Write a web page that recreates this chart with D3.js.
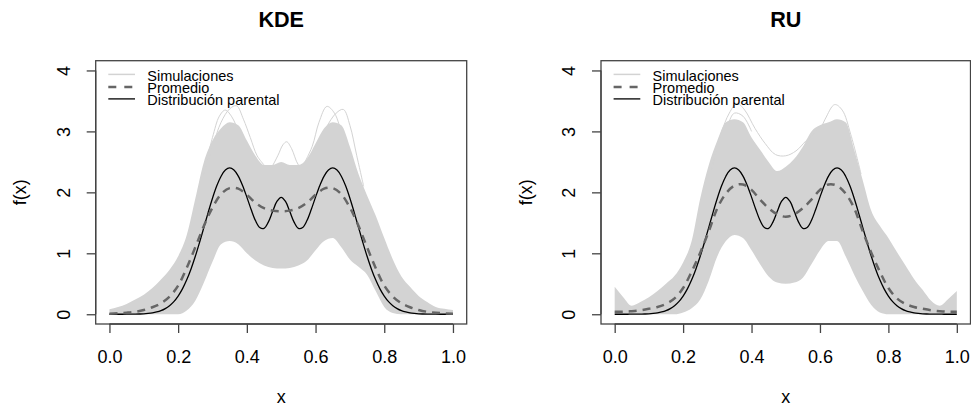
<!DOCTYPE html>
<html><head><meta charset="utf-8">
<script src="https://cdn.jsdelivr.net/npm/d3@7/dist/d3.min.js"></script>
<style>
body{margin:0;background:#fff}
svg{display:block}
text{font-family:"Liberation Sans",Arial,Helvetica,sans-serif;fill:#000}
</style>
</head><body>
<svg id="chart" width="971" height="409"></svg>
<script>
// ---------- data ----------
const titles = ["KDE", "RU"];
const xTicks = [0, 0.2, 0.4, 0.6, 0.8, 1.0];
const yTicks = [0, 1, 2, 3, 4];
const legendLabels = ["Simulaciones", "Promedio", "Distribución parental"];

// evaluation grid for averages / simulation envelopes
const gridX = [0,0.025,0.05,0.075,0.1,0.125,0.15,0.175,0.2,0.225,0.25,0.275,0.3,0.325,0.35,0.375,0.4,0.425,0.45,0.475,0.5,
  0.525,0.55,0.575,0.6,0.625,0.65,0.675,0.7,0.725,0.75,0.775,0.8,0.825,0.85,0.875,0.9,0.925,0.95,0.975,1];

// parent (true) density, finer grid
const parentX = [0,0.0125,0.025,0.0375,0.05,0.0625,0.075,0.0875,0.1,0.1125,0.125,0.1375,0.15,0.1625,0.175,0.1875,0.2,0.2125,0.225,0.2375,
  0.25,0.2625,0.275,0.2875,0.3,0.3125,0.325,0.3375,0.35,0.3625,0.375,0.3875,0.4,0.4125,0.425,0.4375,0.45,0.4625,0.475,0.4875,
  0.5,0.5125,0.525,0.5375,0.55,0.5625,0.575,0.5875,0.6,0.6125,0.625,0.6375,0.65,0.6625,0.675,0.6875,0.7,0.7125,0.725,0.7375,
  0.75,0.7625,0.775,0.7875,0.8,0.8125,0.825,0.8375,0.85,0.8625,0.875,0.8875,0.9,0.9125,0.925,0.9375,0.95,0.9625,0.975,0.9875,1];
const parentY = [0.000,0.000,0.000,0.000,0.001,0.001,0.002,0.004,0.007,0.013,0.022,0.037,0.059,0.093,0.141,0.208,0.299,0.417,0.565,0.744,
  0.951,1.182,1.426,1.672,1.904,2.107,2.265,2.366,2.400,2.367,2.267,2.114,1.922,1.719,1.538,1.424,1.410,1.512,1.685,1.850,
  1.918,1.850,1.685,1.512,1.410,1.424,1.538,1.719,1.922,2.114,2.267,2.367,2.400,2.366,2.265,2.107,1.904,1.672,1.426,1.182,
  0.951,0.744,0.565,0.417,0.299,0.208,0.141,0.093,0.059,0.037,0.022,0.013,0.007,0.004,0.002,0.001,0.001,0.000,0.000,0.000,0.000];

// KDE panel
const kdeMean  = [0.01,0.015,0.025,0.04,0.07,0.115,0.18,0.29,0.47,0.76,1.1,1.45,1.75,1.97,2.07,2.06,1.96,1.83,1.74,1.70,1.69,
  1.70,1.74,1.83,1.96,2.06,2.07,1.97,1.75,1.45,1.1,0.76,0.47,0.29,0.18,0.115,0.07,0.04,0.025,0.015,0.01];
const kdeUpper = [0.08,0.12,0.17,0.24,0.32,0.43,0.57,0.73,0.95,1.3,1.9,2.5,2.85,3.05,3.15,3.1,2.85,2.6,2.45,2.45,2.5,
  2.45,2.45,2.55,2.8,3.05,3.15,3.1,2.75,2.3,1.95,1.62,1.25,0.9,0.62,0.45,0.3,0.2,0.12,0.09,0.07];
const kdeLower = [0,0,0,0,0,0,0,0,0,0.06,0.22,0.52,0.86,1.15,1.2,1.15,1.0,0.88,0.8,0.76,0.75,
  0.76,0.8,0.88,1.05,1.2,1.25,1.1,0.9,0.78,0.65,0.38,0.12,0.02,0,0,0,0,0,0,0];
const kdeSimA = [[0.275,2.3],[0.3,2.75],[0.325,3.15],[0.35,3.37],[0.37,3.42],[0.39,3.2],[0.41,2.9],[0.43,2.6],[0.45,2.45]];
const kdeSimB = [[0.28,2.45],[0.3,2.9],[0.32,3.25],[0.337,3.35],[0.355,3.25],[0.38,2.95],[0.4,2.7]];
const kdeSimC = [[0.45,2.3],[0.47,2.4],[0.49,2.6],[0.505,2.78],[0.516,2.83],[0.53,2.72],[0.55,2.45],[0.57,2.35]];
const kdeSimD = [[0.56,2.4],[0.59,2.75],[0.61,3.15],[0.633,3.41],[0.655,3.3],[0.68,2.9],[0.7,2.6]];
const kdeSimE = [[0.6,2.65],[0.63,3.05],[0.66,3.3],[0.681,3.36],[0.7,3.1],[0.72,2.6],[0.74,2.1]];

// RU panel
const ruMean  = [0.04,0.04,0.05,0.065,0.09,0.12,0.17,0.26,0.43,0.7,1.01,1.36,1.74,1.98,2.11,2.13,2.04,1.88,1.74,1.64,1.60,
  1.64,1.74,1.88,2.04,2.13,2.11,1.98,1.74,1.36,1.01,0.7,0.43,0.26,0.17,0.12,0.09,0.065,0.05,0.04,0.04];
const ruUpper = [0.45,0.28,0.14,0.2,0.28,0.38,0.5,0.63,0.85,1.2,1.9,2.45,2.85,3.15,3.2,3.15,2.9,2.7,2.5,2.35,2.42,
  2.55,2.75,3.0,3.1,3.15,3.2,3.15,2.7,2.2,1.7,1.45,1.25,1.02,0.8,0.58,0.4,0.22,0.14,0.25,0.38];
const ruLower = [0,0,0,0,0,0,0,0,0.03,0.1,0.24,0.55,0.95,1.2,1.3,1.25,1.05,0.82,0.62,0.52,0.5,
  0.52,0.6,0.82,1.05,1.2,1.2,0.95,0.65,0.38,0.15,0.03,0,0,0,0,0,0,0,0,0];
const ruSimA = [[0.28,2.3],[0.31,2.95],[0.335,3.3],[0.357,3.46],[0.38,3.35],[0.41,3.05],[0.44,2.8],[0.47,2.62],[0.5,2.6],[0.53,2.68],[0.56,2.85],[0.59,3.0]];
const ruSimB = [[0.56,2.6],[0.59,2.9],[0.615,3.2],[0.643,3.44],[0.665,3.35],[0.69,2.95],[0.72,2.3]];
const ruSimC = [[0.3,2.6],[0.33,3.1],[0.35,3.3],[0.375,3.25],[0.4,3.0]];

// ---------- drawing ----------
const svg = d3.select("#chart");
const plotTop = 60.7, plotBottom = 324;
const GRAY = "#d3d3d3", MEAN = "#666666";

const panels = [
  {title: titles[0], x0: 95.7, x1: 466.7, mean: kdeMean, upper: kdeUpper, lower: kdeLower, sims: [kdeSimA, kdeSimB, kdeSimC, kdeSimD, kdeSimE]},
  {title: titles[1], x0: 601,  x1: 970.5, mean: ruMean,  upper: ruUpper,  lower: ruLower,  sims: [ruSimA, ruSimB, ruSimC]}
];

panels.forEach((p, i) => {
  const x = d3.scaleLinear().domain([-0.04, 1.04]).range([p.x0, p.x1]);
  const y = d3.scaleLinear().domain([-0.16, 4.16]).range([plotBottom, plotTop]);
  const g = svg.append("g");
  const cx = (p.x0 + p.x1) / 2;

  const clipId = "clip" + i;
  svg.append("clipPath").attr("id", clipId).append("rect")
    .attr("x", p.x0).attr("y", plotTop).attr("width", p.x1 - p.x0).attr("height", plotBottom - plotTop);
  const plot = g.append("g").attr("clip-path", `url(#${clipId})`);

  // simulation band
  const band = d3.area()
    .x((d, j) => x(gridX[j]))
    .y0((d, j) => y(p.lower[j]))
    .y1((d, j) => y(p.upper[j]))
    .curve(d3.curveMonotoneX);
  plot.append("path").datum(p.upper).attr("d", band).attr("fill", GRAY);

  // individual outlying simulations
  const simLine = d3.line().x(d => x(d[0])).y(d => y(d[1])).curve(d3.curveCatmullRom.alpha(0.5));
  p.sims.forEach(s => {
    plot.append("path").datum(s).attr("d", simLine)
      .attr("fill", "none").attr("stroke", GRAY).attr("stroke-width", 1);
  });

  // parent distribution
  const pLine = d3.line().x((d, j) => x(parentX[j])).y(d => y(d)).curve(d3.curveCatmullRom.alpha(0.5));
  plot.append("path").datum(parentY).attr("d", pLine)
    .attr("fill", "none").attr("stroke", "#000").attr("stroke-width", 1.3);

  // mean
  const mLine = d3.line().x((d, j) => x(gridX[j])).y(d => y(d)).curve(d3.curveCatmullRom.alpha(0.5));
  plot.append("path").datum(p.mean).attr("d", mLine)
    .attr("fill", "none").attr("stroke", MEAN).attr("stroke-width", 2.5)
    .attr("stroke-dasharray", "8,6");

  // box
  g.append("rect").attr("x", p.x0).attr("y", plotTop)
    .attr("width", p.x1 - p.x0).attr("height", plotBottom - plotTop)
    .attr("fill", "none").attr("stroke", "#444").attr("stroke-width", 1.3);

  // x axis
  const xa = g.append("g").attr("transform", `translate(0,${plotBottom})`)
    .call(d3.axisBottom(x).tickValues(xTicks).tickFormat(d3.format(".1f")).tickSize(9).tickSizeOuter(0).tickPadding(17));
  xa.select(".domain").remove();
  xa.append("line").attr("x1", x(0)).attr("x2", x(1)).attr("y1", 0).attr("y2", 0).attr("stroke", "#444").attr("stroke-width", 1.3);
  xa.selectAll(".tick line").attr("stroke", "#444").attr("stroke-width", 1.3);
  xa.selectAll(".tick text").attr("font-size", 18).attr("fill", "#000");

  // y axis
  const ya = g.append("g").attr("transform", `translate(${p.x0},0)`)
    .call(d3.axisLeft(y).tickValues(yTicks).tickFormat(d3.format("d")).tickSize(9).tickSizeOuter(0));
  ya.select(".domain").remove();
  ya.append("line").attr("x1", 0).attr("x2", 0).attr("y1", y(0)).attr("y2", y(4)).attr("stroke", "#444").attr("stroke-width", 1.3);
  ya.selectAll(".tick line").attr("stroke", "#444").attr("stroke-width", 1.3);
  ya.selectAll(".tick text")
    .attr("x", null).attr("dy", "0.35em").attr("text-anchor", "middle")
    .attr("transform", "translate(-32,0) rotate(-90)")
    .attr("font-size", 18).attr("fill", "#000");

  // titles and labels
  g.append("text").attr("x", cx).attr("y", 27).attr("text-anchor", "middle")
    .attr("font-size", 21.6).attr("font-weight", "bold").text(p.title);
  g.append("text").attr("x", x(0.5)).attr("y", 403).attr("text-anchor", "middle")
    .attr("font-size", 18).text("x");
  g.append("text").attr("transform", `translate(${p.x0 - 74},${(plotTop + plotBottom) / 2}) rotate(-90)`)
    .attr("dy", "0.26em").attr("text-anchor", "middle").attr("font-size", 18).text("f(x)");

  // legend
  const styles = [
    {stroke: GRAY, w: 1.5, dash: null},
    {stroke: MEAN, w: 2.5, dash: "8,8"},
    {stroke: "#000", w: 1.3, dash: null}
  ];
  const baselines = [80.7, 93.2, 105.2];
  legendLabels.forEach((lab, k) => {
    const ly = baselines[k] - 6.3;
    g.append("line").attr("x1", p.x0 + 12.6).attr("x2", p.x0 + 39.3).attr("y1", ly).attr("y2", ly)
      .attr("stroke", styles[k].stroke).attr("stroke-width", styles[k].w)
      .attr("stroke-dasharray", styles[k].dash);
    g.append("text").attr("x", p.x0 + 51.6).attr("y", baselines[k]).attr("font-size", 14.5).text(lab);
  });
});
</script>
</body></html>
